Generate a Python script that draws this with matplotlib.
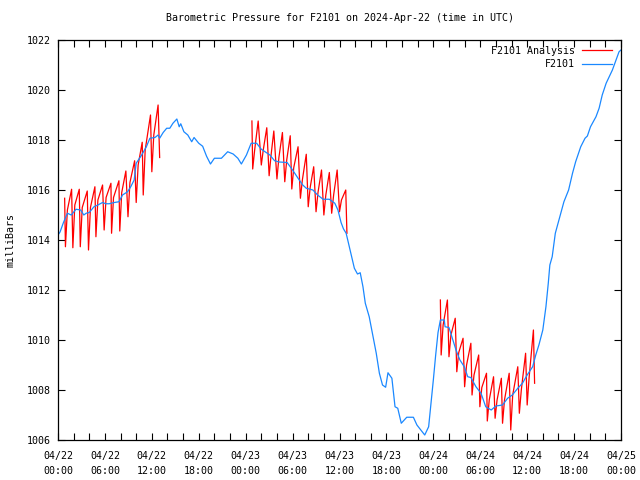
import matplotlib
matplotlib.use("Agg")
import matplotlib.pyplot as plt
import matplotlib.dates as mdates
import numpy as np
import pandas as pd

# ---------------- data ----------------
start_time = "2024-04-22 00:00"
end_time = "2024-04-25 00:00"
y_ticks = [1006, 1008, 1010, 1012, 1014, 1016, 1018, 1020, 1022]

# F2101 observed (hours since start, mbar)
obs_hours = [0.0, 0.26, 0.7, 1.2, 1.7, 2.3, 2.9, 3.3, 3.6, 4.0, 4.6, 5.1, 5.7, 6.1, 6.55,
             7.2, 7.8, 8.25, 8.9, 9.3, 9.74, 10.0, 10.7, 11.3, 11.75, 12.4, 12.8, 13.0,
             13.45, 13.9, 14.3, 14.7, 15.2, 15.5, 15.7, 16.1, 16.6, 17.1, 17.4, 18.0,
             18.5, 19.0, 19.5, 20.0, 20.9, 21.3, 21.7, 22.4, 23.0, 23.45, 24.1, 24.7,
             25.4, 26.0, 27.1, 27.7, 28.3, 29.3, 30.0, 30.7, 31.3, 31.75, 32.6, 33.2,
             33.9, 34.7, 35.4, 35.8, 36.2, 36.5, 36.85, 37.3, 37.9, 38.3, 38.65, 39.0,
             39.3, 39.8, 40.25, 40.7, 41.1, 41.5, 41.9, 42.2, 42.7, 43.1, 43.45, 43.9,
             44.6, 45.45, 45.9, 46.4, 46.9, 47.4, 47.7, 48.0, 48.3, 48.6, 48.9, 49.4,
             49.5, 50.0, 50.4, 50.9, 51.4, 51.96, 52.4, 52.8, 53.45, 54.1, 54.7, 55.4,
             56.0, 56.85, 57.5, 58.1, 58.8, 59.4, 60.0, 60.7, 61.1, 61.5, 62.0, 62.4,
             62.7, 62.9, 63.2, 63.6, 64.0, 64.4, 64.7, 65.3, 65.8, 66.2, 66.85, 67.4,
             67.7, 68.1, 68.8, 69.2, 69.6, 70.1, 70.9, 71.75, 72.0]
obs_values = [1014.2, 1014.32, 1014.7, 1015.07, 1015.0, 1015.23, 1015.2, 1015.0, 1015.07,
              1015.1, 1015.33, 1015.4, 1015.5, 1015.45, 1015.45, 1015.5, 1015.53, 1015.8,
              1015.93, 1016.13, 1016.4, 1017.07, 1017.4, 1017.73, 1018.07, 1018.1, 1018.2,
              1018.07, 1018.3, 1018.47, 1018.47, 1018.67, 1018.84, 1018.53, 1018.65,
              1018.33, 1018.2, 1017.93, 1018.1, 1017.87, 1017.75, 1017.35, 1017.04,
              1017.27, 1017.27, 1017.4, 1017.53, 1017.44, 1017.27, 1017.04, 1017.4,
              1017.87, 1017.87, 1017.63, 1017.4, 1017.17, 1017.12, 1017.1, 1016.8,
              1016.47, 1016.2, 1016.07, 1016.0, 1015.8, 1015.63, 1015.63, 1015.47,
              1015.2, 1014.7, 1014.45, 1014.27, 1013.67, 1012.87, 1012.64, 1012.69,
              1012.13, 1011.47, 1010.93, 1010.2, 1009.47, 1008.67, 1008.2, 1008.11,
              1008.69, 1008.47, 1007.33, 1007.27, 1006.67, 1006.91, 1006.91, 1006.6,
              1006.4, 1006.2, 1006.53, 1007.47, 1008.4, 1009.4, 1010.3, 1010.8, 1010.8,
              1010.53, 1010.5, 1010.1, 1009.6, 1009.2, 1008.93, 1008.53, 1008.5, 1008.13,
              1007.87, 1007.33, 1007.2, 1007.36, 1007.4, 1007.67, 1007.8, 1008.07,
              1008.27, 1008.6, 1008.93, 1009.4, 1009.8, 1010.4, 1011.33, 1012.27, 1013.0,
              1013.33, 1014.27, 1014.73, 1015.2, 1015.53, 1016.0, 1016.67, 1017.13,
              1017.73, 1018.07, 1018.16, 1018.53, 1018.93, 1019.27, 1019.8, 1020.27,
              1020.8, 1021.53, 1021.6]

# F2101 Analysis, three segments (hours since start, mbar)
ana1_hours = [0.85, 0.95, 1.2, 1.74, 1.9, 2.15, 2.72, 2.85, 3.1, 3.74, 3.9, 4.15, 4.72, 4.85,
              5.1, 5.7, 5.9, 6.15, 6.77, 6.85, 7.1, 7.79, 7.9, 8.15, 8.68, 8.95, 9.2, 9.8,
              10.0, 10.25, 10.77, 10.9, 11.15, 11.83, 12.0, 12.25, 12.8, 13.0]
ana1_values = [1015.67, 1013.73, 1015.2, 1016.03, 1013.69, 1015.4, 1016.03, 1013.73,
               1015.3, 1015.96, 1013.6, 1015.3, 1016.13, 1014.13, 1015.6, 1016.2, 1014.4,
               1015.7, 1016.27, 1014.27, 1015.7, 1016.37, 1014.36, 1015.9, 1016.76,
               1014.93, 1016.3, 1017.17, 1015.5, 1017.0, 1017.91, 1015.8, 1017.6, 1019.0,
               1016.73, 1018.2, 1019.4, 1017.3]
ana2_hours = [24.8, 24.9, 25.15, 25.6, 26.0, 26.25, 26.7, 27.0, 27.25, 27.6, 28.0, 28.25,
              28.7, 29.0, 29.25, 29.7, 29.9, 30.15, 30.7, 31.0, 31.25, 31.75, 32.0, 32.25,
              32.7, 33.0, 33.25, 33.7, 34.0, 34.25, 34.7, 35.0, 35.25, 35.7, 36.0, 36.25,
              36.8, 36.95]
ana2_values = [1018.76, 1016.84, 1017.6, 1018.76, 1017.0, 1017.6, 1018.49, 1016.57,
               1017.4, 1018.36, 1016.44, 1017.3, 1018.3, 1016.33, 1017.2, 1018.17, 1016.04,
               1016.9, 1017.73, 1015.67, 1016.4, 1017.43, 1015.33, 1016.1, 1016.93,
               1015.13, 1015.9, 1016.8, 1015.0, 1015.8, 1016.7, 1015.07, 1015.8, 1016.8,
               1015.13, 1015.6, 1016.0, 1014.27]
ana3_hours = [48.9, 49.0, 49.25, 49.8, 50.0, 50.25, 50.8, 51.0, 51.25, 51.8, 52.0, 52.25,
              52.8, 52.95, 53.2, 53.8, 53.95, 54.2, 54.8, 54.9, 55.15, 55.7, 55.9, 56.15,
              56.7, 56.85, 57.1, 57.7, 57.9, 58.15, 58.8, 59.0, 59.25, 59.8, 60.0, 60.25,
              60.8, 60.95]
ana3_values = [1011.6, 1009.4, 1010.6, 1011.6, 1009.33, 1010.2, 1010.87, 1008.73, 1009.5,
               1010.07, 1008.13, 1009.0, 1009.87, 1007.8, 1008.6, 1009.4, 1007.33, 1008.1,
               1008.67, 1006.76, 1007.6, 1008.53, 1006.87, 1007.6, 1008.47, 1006.67,
               1007.6, 1008.67, 1006.4, 1007.8, 1008.93, 1007.07, 1008.0, 1009.47, 1007.4,
               1008.5, 1010.4, 1008.27]

title = "Barometric Pressure for F2101 on 2024-Apr-22 (time in UTC)"
y_label = "milliBars"
label_ana = "F2101 Analysis"
label_obs = "F2101"

# ---------------- plot ----------------
FONT = "DejaVu Sans Mono"
plt.rcParams["font.family"] = FONT
plt.rcParams["font.size"] = 7

base = pd.Timestamp(start_time)

def to_time(h):
    return base + pd.to_timedelta(np.asarray(h, dtype=float), unit="h")

fig = plt.figure(figsize=(6.4, 4.8), dpi=100)
ax = fig.add_axes([58 / 640, 40 / 480, (621 - 58) / 640, 400 / 480])

red = "#ff0000"
blue = "#1a88ff"

first = True
for hh, vv in [(ana1_hours, ana1_values), (ana2_hours, ana2_values), (ana3_hours, ana3_values)]:
    ax.plot(to_time(hh), vv, color=red, lw=0.9,
            label=label_ana if first else None)
    first = False
ax.plot(to_time(obs_hours), obs_values, color=blue, lw=0.9, label=label_obs)

ax.set_xlim(pd.Timestamp(start_time), pd.Timestamp(end_time))
ax.set_ylim(y_ticks[0], y_ticks[-1])
ax.set_yticks(y_ticks)
ax.set_yticklabels([str(v) for v in y_ticks])

ax.xaxis.set_major_locator(mdates.HourLocator(interval=2))

def fmt(x, pos=None):
    d = mdates.num2date(x)
    if d.hour % 6 == 0 and d.minute == 0:
        return d.strftime("%m/%d\n%H:%M")
    return ""

ax.xaxis.set_major_formatter(plt.FuncFormatter(fmt))

ax.tick_params(axis="both", direction="in", length=5, width=0.8,
               top=True, right=True, labelsize=7.2, colors="black")
ax.tick_params(axis="x", pad=8)
ax.tick_params(axis="y", pad=5)
for lab in ax.get_xticklabels():
    lab.set_linespacing(1.6)
for s in ax.spines.values():
    s.set_linewidth(0.9)
    s.set_color("black")

ax.set_title(title, fontsize=7.2, pad=14)
ax.set_ylabel(y_label, fontsize=7.2, labelpad=8)

leg = ax.legend(loc="upper right", bbox_to_anchor=(0.995, 1.0), frameon=False,
                markerfirst=False, handlelength=3.0, handletextpad=0.7,
                labelspacing=0.35, borderaxespad=0.2, fontsize=7.2)

fig.savefig("out.png", dpi=100)
